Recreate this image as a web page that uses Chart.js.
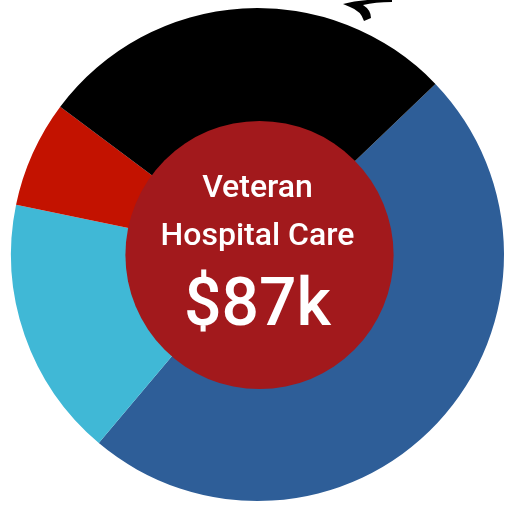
<!DOCTYPE html>
<html>
<head>
<meta charset="utf-8">
<script src="https://cdn.jsdelivr.net/npm/chart.js@4/dist/chart.umd.min.js"></script>
<style>
  html, body { margin: 0; padding: 0; background: #fff; }
  #wrap { width: 518px; height: 507px; }
</style>
</head>
<body>
<div id="wrap"><canvas id="myChart"></canvas></div>
<script>
  // data (share of the ring, %)
  const labels = ['Blue', 'Light blue', 'Red', 'Black'];
  const values = [48.3, 17.1, 7.0, 27.6];
  const colors = ['#2e5e98', '#40b8d6', '#c31200', '#000000'];

  const centerLines = ['Veteran', 'Hospital Care'];
  const centerValue = '$87k';

  // center disc + text
  const centerPlugin = {
    id: 'centerDisc',
    afterDatasetsDraw(chart) {
      const meta = chart.getDatasetMeta(0);
      const arc = meta.data[0];
      const ctx = chart.ctx;
      const x = arc.x, y = arc.y;
      const r = arc.outerRadius * 0.544;
      ctx.save();
      ctx.beginPath();
      ctx.arc(x + 2, y + 0.5, r, 0, Math.PI * 2);
      ctx.fillStyle = '#a2191c';
      ctx.fill();
      ctx.fillStyle = '#ffffff';
      ctx.textAlign = 'center';
      ctx.textBaseline = 'alphabetic';
      ctx.font = '500 32px Roboto';
      ctx.fillText(centerLines[0], x, y - 57.5);
      ctx.fillText(centerLines[1], x, y - 9.5);
      ctx.font = '500 66px Roboto';
      ctx.fillText(centerValue, x, y + 70.5);
      ctx.restore();
    }
  };

  // the cut-off squiggle at the top edge
  const squigglePlugin = {
    id: 'squiggle',
    afterDraw(chart) {
      const ctx = chart.ctx;
      ctx.save();
      ctx.fillStyle = '#000';
      ctx.beginPath();
      ctx.moveTo(343, 4);
      ctx.quadraticCurveTo(362, -1, 392, -1);
      ctx.lineTo(392, 2);
      ctx.quadraticCurveTo(375, 2, 363, 5);
      ctx.quadraticCurveTo(371, 10, 371, 18);
      ctx.lineTo(364, 21);
      ctx.quadraticCurveTo(361, 11, 350, 7);
      ctx.closePath();
      ctx.fill();
      ctx.restore();
    }
  };

  const data = {
    labels: labels,
    datasets: [{
      data: values,
      backgroundColor: colors,
      borderWidth: 0
    }]
  };

  const config = {
    type: 'doughnut',
    data: data,
    options: {
      responsive: true,
      maintainAspectRatio: false,
      animation: false,
      rotation: 46.2,
      cutout: '50%',
      layout: { padding: { left: 11, right: 14, top: 8, bottom: 6 } },
      plugins: {
        legend: { display: false },
        tooltip: { enabled: false }
      }
    },
    plugins: [centerPlugin, squigglePlugin]
  };

  const myChart = new Chart(document.getElementById('myChart'), config);
</script>
</body>
</html>
